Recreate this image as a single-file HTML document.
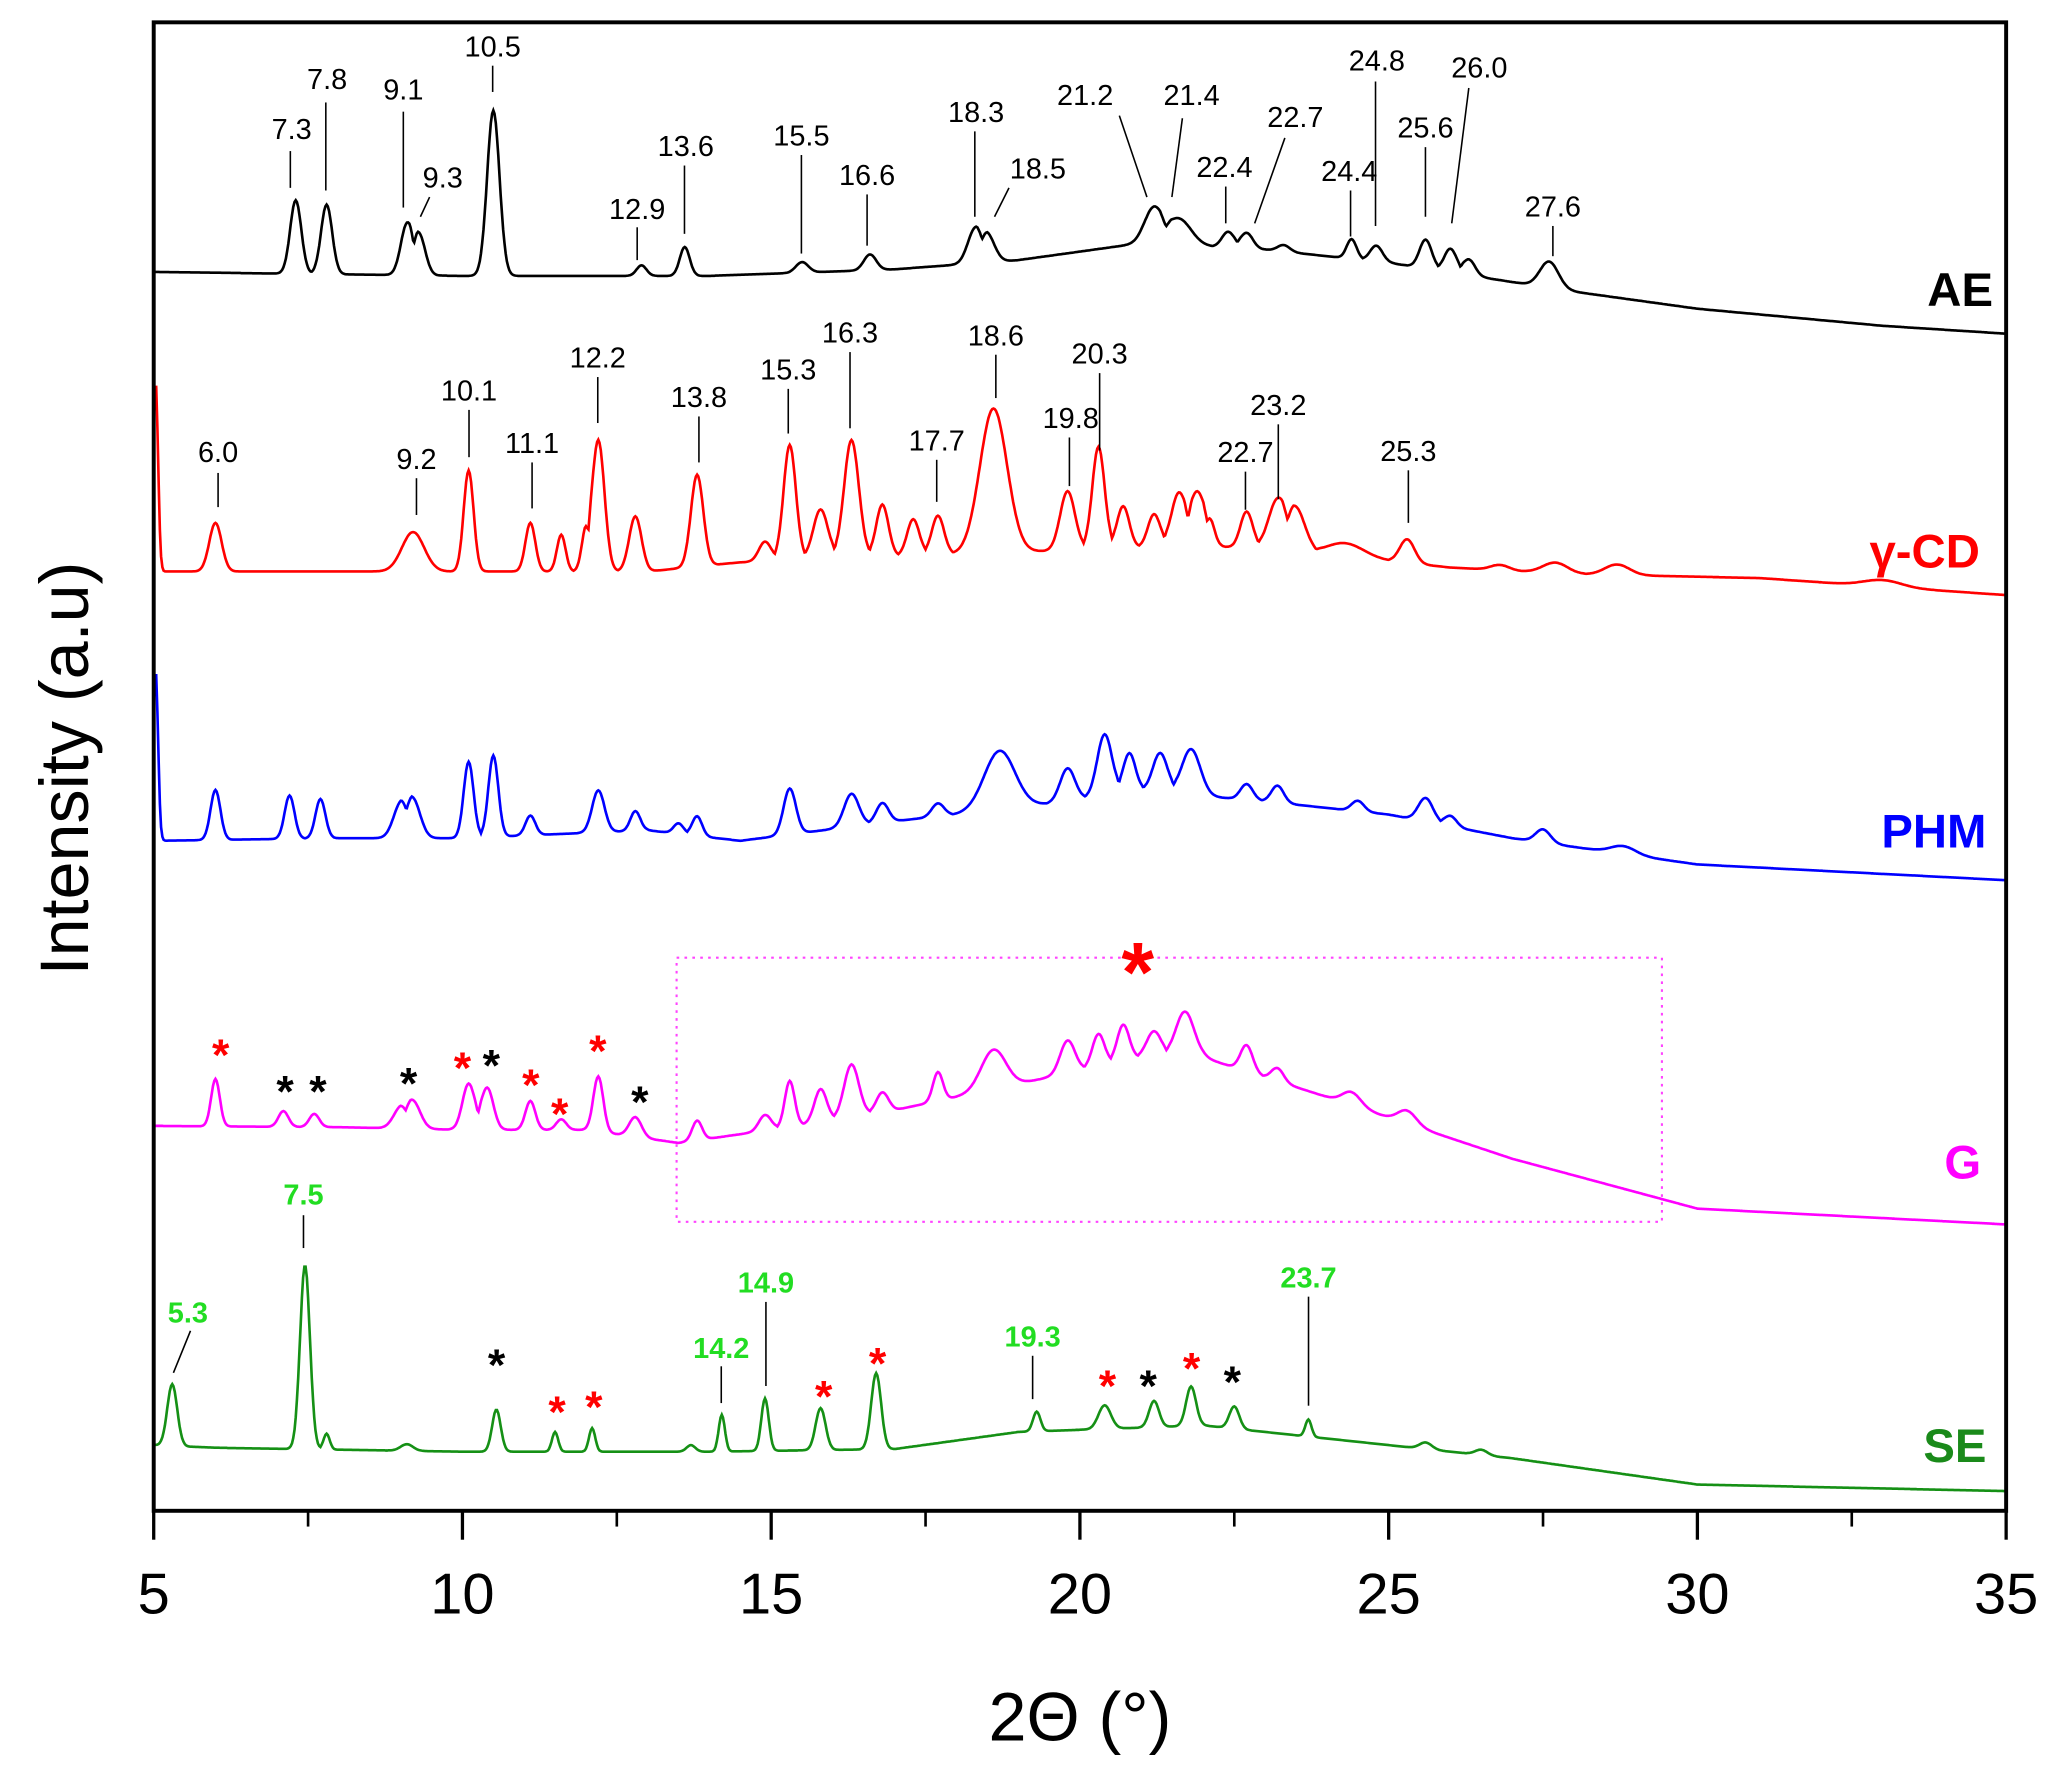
<!DOCTYPE html>
<html><head><meta charset="utf-8"><style>
html,body{margin:0;padding:0;background:#fff;}
svg{display:block;font-family:"Liberation Sans",Arial,sans-serif;}
</style></head><body>
<svg id="chart" width="2060" height="1788" viewBox="0 0 1568 1361" preserveAspectRatio="none" xmlns="http://www.w3.org/2000/svg">
<rect x="0" y="0" width="1568" height="1361" fill="#fff"/>
<g id="series"></g>
<rect x="117" y="17" width="1410" height="1133" fill="none" stroke="#000" stroke-width="3"/>
<rect x="515" y="729" width="750" height="201" fill="none" stroke="#ff44ff" stroke-width="1.6" stroke-dasharray="2,4"/>
<g id="xaxis"></g>
<text x="822" y="1325" font-size="52" text-anchor="middle">2Θ (°)</text>
<text transform="translate(67,585) rotate(-90)" font-size="52" text-anchor="middle">Intensity (a.u)</text>
<g id="annot" font-size="22" text-anchor="middle"></g>
<g id="stars" font-weight="bold" text-anchor="middle"></g>
<g font-weight="bold" font-size="36" text-anchor="end">
<text x="1517" y="233" fill="#000">AE</text>
<text x="1507" y="432" fill="#ff0000">γ-CD</text>
<text x="1512" y="645" fill="#0000ff">PHM</text>
<text x="1508" y="897" fill="#ff00ff">G</text>
<text x="1512" y="1113" fill="#1a8a1a">SE</text>
</g>
</svg>
<script>
// axis ticks
const xTicks=[5,10,15,20,25,30,35];
const xMinor=[7.5,12.5,17.5,22.5,27.5,32.5];
// AE
const aeBaseX=[5,10,14,17,19,21,23,25,28,30,33,35];
const aeBaseV=[943,940,940,945,952,965,960,950,928,915,902,896];
const aePeakPos=[7.3,7.8,9.1,9.3,10.5,12.9,13.6,15.5,16.6,18.3,18.5,21.2,21.6,22.4,22.7,23.3,24.4,24.8,25.6,26.0,26.3,27.6];
const aePeakH=[56,53,38,30,126,8,22,8,12,25,20,27,20,12,12,5,15,12,22,18,12,20];
const aePeakW=[0.09,0.09,0.1,0.1,0.1,0.08,0.08,0.1,0.1,0.12,0.12,0.15,0.2,0.1,0.1,0.1,0.08,0.1,0.1,0.1,0.1,0.15];
// gamma-CD
const cdBaseX=[5,8,13,14.5,18,22,24,26,28,31,35];
const cdBaseV=[715,715,715,722,728,735,728,718,713,710,697];
const cdPeakPos=[5.03,6.0,9.2,10.1,11.1,11.6,12.0,12.2,12.8,13.8,14.9,15.3,15.8,16.3,16.8,17.3,17.7,18.6,19.8,20.3,20.7,21.2,21.6,21.9,22.1,22.7,23.2,23.5,24.3,25.3,26.8,27.7,28.7,33];
const cdPeakH=[145,37,30,77,37,28,30,100,42,70,15,88,38,90,40,28,30,110,45,78,32,25,40,40,18,28,38,32,10,18,4,8,8,5];
const cdPeakW=[0.04,0.1,0.18,0.08,0.08,0.07,0.07,0.1,0.1,0.1,0.1,0.1,0.12,0.12,0.1,0.1,0.1,0.22,0.12,0.1,0.1,0.1,0.12,0.12,0.08,0.1,0.15,0.15,0.3,0.12,0.15,0.2,0.2,0.3];
// PHM
const phBaseX=[5,8,10,13,14.5,17,19,21,23,25,27,30,35];
const phBaseV=[510,512,512,518,510,525,535,548,540,530,512,492,480];
const phPeakPos=[5.03,6.0,7.2,7.7,9.0,9.2,10.1,10.5,11.1,12.2,12.8,13.5,13.8,15.3,16.3,16.8,17.7,18.7,19.8,20.4,20.8,21.3,21.8,22.7,23.2,24.5,25.6,26.0,27.5,28.8];
const phPeakH=[130,38,33,30,25,28,58,62,15,32,15,8,15,35,25,15,10,45,25,47,30,30,35,12,13,8,18,8,10,6];
const phPeakW=[0.04,0.08,0.08,0.08,0.12,0.12,0.08,0.08,0.08,0.1,0.08,0.08,0.08,0.1,0.12,0.1,0.1,0.25,0.12,0.12,0.1,0.12,0.15,0.1,0.1,0.1,0.12,0.1,0.12,0.2];
// G
const gBaseX=[5,8,10,12,13.5,15,17,19,21,22,24,27,30,35];
const gBaseV=[293,292,290,290,280,290,305,325,345,345,315,268,230,218];
const gPeakPos=[6.0,7.1,7.6,9.0,9.2,10.1,10.4,11.1,11.6,12.2,12.8,13.8,14.9,15.3,15.8,16.3,16.8,17.7,18.6,19.8,20.3,20.7,21.2,21.7,22.7,23.2,24.4,25.3];
const gPeakH=[36,12,10,15,20,35,32,22,8,42,15,15,12,35,25,40,15,22,30,25,25,28,20,35,20,10,10,10];
const gPeakW=[0.07,0.08,0.08,0.12,0.12,0.1,0.1,0.08,0.08,0.08,0.1,0.08,0.1,0.08,0.1,0.12,0.1,0.08,0.2,0.12,0.1,0.1,0.12,0.15,0.1,0.1,0.15,0.15];
// SE
const seBaseX=[5,6,10,14,17,19,22,24,27,30,35];
const seBaseV=[50,48,45,45,47,60,65,55,40,20,15];
const sePeakPos=[5.3,7.45,7.8,9.1,10.55,11.5,12.1,13.7,14.2,14.9,15.8,16.7,19.3,20.4,21.2,21.8,22.5,23.7,25.6,26.5];
const sePeakH=[47,140,12,5,32,15,18,5,28,40,32,58,15,18,20,30,17,13,5,4];
const sePeakW=[0.08,0.08,0.05,0.1,0.07,0.05,0.05,0.07,0.05,0.06,0.08,0.08,0.06,0.1,0.08,0.08,0.08,0.05,0.1,0.1];

const X0=117,X1=1527,D0=5,D1=35,YB=1150;
function xs(d){return X0+(d-D0)*(X1-X0)/(D1-D0);}
function ys(v){return YB-v;}
function interp(bx,bv,d){
  if(d<=bx[0])return bv[0];
  for(let i=1;i<bx.length;i++){if(d<=bx[i]){const t=(d-bx[i-1])/(bx[i]-bx[i-1]);return bv[i-1]+t*(bv[i]-bv[i-1]);}}
  return bv[bv.length-1];
}
const NS="http://www.w3.org/2000/svg";
function curve(bx,bv,pp,ph,pw,color,name){
  let pts=[];
  for(let d=D0;d<=D1+1e-9;d+=0.02){
    let m=0,s=0;
    for(let i=0;i<pp.length;i++){const z=(d-pp[i])/pw[i];const g=ph[i]*Math.exp(-0.5*z*z);s+=g;if(g>m)m=g;}
    const v=interp(bx,bv,d)+0.5*m+0.5*Math.min(s,m*1.3);
    pts.push(xs(d).toFixed(1)+","+ys(v).toFixed(1));
  }
  const p=document.createElementNS(NS,"polyline");
  p.setAttribute("points",pts.join(" "));
  p.setAttribute("fill","none");p.setAttribute("stroke",color);p.setAttribute("stroke-width","2");
  
  
  document.getElementById("series").appendChild(p);
}
curve(aeBaseX,aeBaseV,aePeakPos,aePeakH,aePeakW,"#000","series-ae");
curve(cdBaseX,cdBaseV,cdPeakPos,cdPeakH,cdPeakW,"#ff0000","series-gamma-cd");
curve(phBaseX,phBaseV,phPeakPos,phPeakH,phPeakW,"#0000ff","series-phm");
curve(gBaseX,gBaseV,gPeakPos,gPeakH,gPeakW,"#ff00ff","series-g");
curve(seBaseX,seBaseV,sePeakPos,sePeakH,sePeakW,"#159015","series-se");

const xa=document.getElementById("xaxis");
xTicks.forEach(t=>{
  const l=document.createElementNS(NS,"line");
  l.setAttribute("x1",xs(t));l.setAttribute("x2",xs(t));l.setAttribute("y1",1150);l.setAttribute("y2",1172);
  l.setAttribute("stroke","#000");l.setAttribute("stroke-width","2.5");
  
  
  xa.appendChild(l);
  const tx=document.createElementNS(NS,"text");
  tx.setAttribute("x",xs(t));tx.setAttribute("y",1228);tx.setAttribute("font-size","44");tx.setAttribute("text-anchor","middle");
  tx.textContent=t;
  
  
  xa.appendChild(tx);
});
xMinor.forEach(t=>{
  const l=document.createElementNS(NS,"line");
  l.setAttribute("x1",xs(t));l.setAttribute("x2",xs(t));l.setAttribute("y1",1150);l.setAttribute("y2",1162);
  l.setAttribute("stroke","#000");l.setAttribute("stroke-width","2");
  
  
  xa.appendChild(l);
});

// annotations: [text, tx, ty, x1,y1,x2,y2, color]
const ann=[
["7.3",222,99,221,115,221,143,"#000"],["7.8",249,61,248,78,248,145,"#000"],["9.1",307,69,307,85,307,158,"#000"],
["9.3",337,136,327,150,320,165,"#000"],["10.5",375,36,375,50,375,70,"#000"],["12.9",485,160,485,173,485,198,"#000"],
["13.6",522,112,521,126,521,178,"#000"],["15.5",610,104,610,118,610,193,"#000"],["16.6",660,134,660,148,660,187,"#000"],
["18.3",743,86,742,100,742,165,"#000"],["18.5",790,129,768,143,757,165,"#000"],["21.2",826,73,852,88,873,150,"#000"],
["21.4",907,73,900,90,892,150,"#000"],["22.4",932,128,933,142,933,170,"#000"],["22.7",986,90,978,105,955,170,"#000"],
["24.4",1027,131,1028,145,1028,180,"#000"],["24.8",1048,47,1047,62,1047,172,"#000"],["25.6",1085,98,1085,112,1085,165,"#000"],
["26.0",1126,52,1118,67,1105,170,"#000"],["27.6",1182,158,1182,172,1182,195,"#000"],
["6.0",166,345,166,360,166,386,"#000"],["9.2",317,350,317,364,317,392,"#000"],["10.1",357,298,357,312,357,348,"#000"],
["11.1",405,338,405,352,405,387,"#000"],["12.2",455,273,455,287,455,322,"#000"],["13.8",532,303,532,317,532,352,"#000"],
["15.3",600,282,600,296,600,330,"#000"],["16.3",647,254,647,268,647,326,"#000"],["17.7",713,336,713,350,713,382,"#000"],
["18.6",758,256,758,270,758,303,"#000"],["19.8",815,319,814,333,814,370,"#000"],["20.3",837,270,837,284,837,343,"#000"],
["22.7",948,345,948,359,948,388,"#000"],["23.2",973,309,973,323,973,380,"#000"],["25.3",1072,344,1072,358,1072,398,"#000"],
["5.3",143,1000,145,1013,132,1045,"#22dd22"],["7.5",231,910,231,925,231,950,"#22dd22"],["14.2",549,1027,549,1040,549,1068,"#22dd22"],
["14.9",583,977,583,991,583,1055,"#22dd22"],["19.3",786,1018,786,1032,786,1065,"#22dd22"],["23.7",996,973,996,987,996,1070,"#22dd22"]
];
const ag=document.getElementById("annot");
ann.forEach(a=>{
  const t=document.createElementNS(NS,"text");
  t.setAttribute("x",a[1]);t.setAttribute("y",a[2]);t.setAttribute("dominant-baseline","central");t.setAttribute("fill",a[7]);
  if(a[7]!="#000")t.setAttribute("font-weight","bold");
  t.textContent=a[0];
  
  
  ag.appendChild(t);
  const l=document.createElementNS(NS,"line");
  l.setAttribute("x1",a[3]);l.setAttribute("y1",a[4]);l.setAttribute("x2",a[5]);l.setAttribute("y2",a[6]);
  l.setAttribute("stroke","#000");l.setAttribute("stroke-width","1.2");
  
  
  ag.appendChild(l);
});
const stars=[
[168,800,"r",34],[217,828,"k",34],[242,828,"k",34],[311,822,"k",34],[352,810,"r",34],[374,808,"k",34],[404,823,"r",34],[426,845,"r",34],[455,797,"r",34],[487,836,"k",34],
[866,735,"r",64],
[378,1036,"k",34],[424,1072,"r",34],[452,1068,"r",34],[627,1060,"r",34],[668,1035,"r",34],[843,1052,"r",34],[874,1052,"k",34],[907,1039,"r",34],[938,1049,"k",34]
];
const sg=document.getElementById("stars");
stars.forEach(s=>{
  const t=document.createElementNS(NS,"text");
  t.setAttribute("x",s[0]);t.setAttribute("y",s[1]+s[3]*0.42);t.setAttribute("font-size",s[3]);
  t.setAttribute("fill",s[2]=="r"?"#ff0000":"#000");
  t.textContent="*";
  
  
  sg.appendChild(t);
});
</script>
</body></html>
